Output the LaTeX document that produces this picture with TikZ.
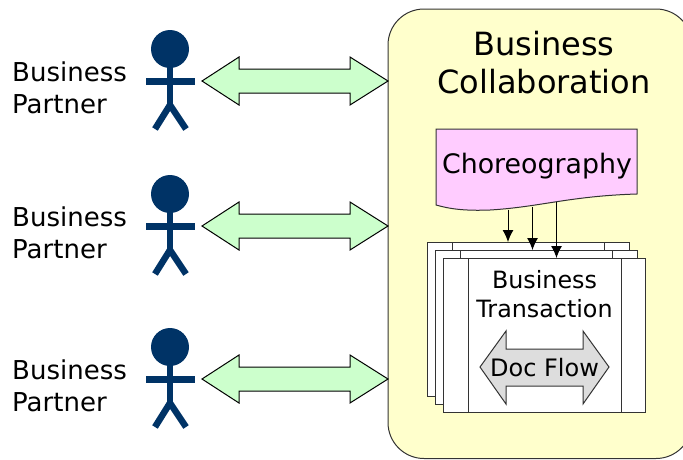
\documentclass[tikz,border=0pt]{standalone}
\usepackage{fontspec}
\setmainfont{DejaVu Sans}
\definecolor{bcyellow}{HTML}{FFFFCC}
\definecolor{chpink}{HTML}{FFCCFF}
\definecolor{arrgreen}{HTML}{CCFFCC}
\definecolor{navy}{HTML}{003366}
\definecolor{flowgray}{HTML}{DDDDDD}
\definecolor{edgegray}{HTML}{333333}
\usetikzlibrary{arrows.meta}
\tikzset{
 actorpart/.style={draw=navy,line width=6.5pt,line cap=butt},
 partnerlabel/.style={align=left,anchor=west,inner sep=0pt,font=\fontsize{26}{32}\selectfont},
 pageframe/.style={draw=edgegray,fill=white,line width=1pt,anchor=north west,minimum width=201.5pt,minimum height=154pt,inner sep=0pt,outer sep=0pt},
 pagebar/.style={draw=edgegray,line width=1pt},
 linkarrow/.style={draw=black,fill=arrgreen,line width=1pt,line join=miter},
 flowarrow/.style={draw=edgegray,fill=flowgray,line width=1pt,line join=miter},
 trigger/.style={draw=black,line width=1pt,-{Latex[length=12pt,width=11pt]}},
}
\newcommand{\bpactor}[2]{%
 \begin{scope}[yshift=-#1pt]
  \node[partnerlabel] (label#2) at (12,88) {Business\\Partner};
  \fill[navy] (170,49) circle (19);
  \coordinate (hip#2) at (170,105);
  \coordinate (neck#2) at (170,66);
  \coordinate (armL#2) at (146,81.5);
  \coordinate (armR#2) at (195,81.5);
  \coordinate (legL#2) at (155,129);
  \coordinate (legR#2) at (186,129);
  \draw[actorpart] (neck#2) -- (hip#2);
  \draw[actorpart] (armL#2) -- (armR#2);
  \draw[actorpart,line join=miter] (legL#2) -- (hip#2) -- (legR#2);
  \draw[linkarrow] (202,81) -- (239,57) -- (239,69) -- (350,69) -- (350,57) -- (388,81) -- (350,105) -- (350,93) -- (239,93) -- (239,105) -- cycle;
 \end{scope}}
\begin{document}
\begin{tikzpicture}[x=1pt,y=-1pt]
\useasboundingbox (0,0) rectangle (683,459);
% collaboration container (runs past the right edge of the picture)
\begin{scope}
\clip (0,0) rectangle (683,459);
\draw[draw=edgegray,fill=bcyellow,line width=1pt,rounded corners=36pt] (388,9) rectangle (692,458.5);
\end{scope}
\node[align=center,inner sep=0pt,font=\fontsize{32}{38}\selectfont] (title) at (544,62.5) {Business\\Collaboration};
% actors
\bpactor{0}{a}
\bpactor{145}{b}
\bpactor{298}{c}
% stacked transaction pages
\node[pageframe] (page1) at (427.5,242) {};
\draw[pagebar] (452,242) -- (452,396) (604,242) -- (604,396);
\node[pageframe] (page2) at (435.5,250) {};
\draw[pagebar] (460,250) -- (460,404) (612,250) -- (612,404);
\node[pageframe] (page3) at (443.5,258) {};
\draw[pagebar] (468.3,258) -- (468.3,412) (621,258) -- (621,412);
\node[align=center,inner sep=0pt,font=\fontsize{23.8}{29}\selectfont] (txn) at (544.5,294) {Business\\Transaction};
% doc flow
\draw[flowarrow] (480,367) -- (506,331) -- (506,349) -- (583,349) -- (583,331) -- (609,367) -- (583,404) -- (583,386) -- (506,386) -- (506,404) -- cycle;
\node[inner sep=0pt,font=\fontsize{24}{29}\selectfont] (flow) at (544.5,368) {Doc Flow};
% choreography document
\draw[draw=edgegray,fill=chpink,line width=1pt] (436,129) -- (637,129) -- (637,194)
  .. controls (570,196) and (540,207) .. (490,210)
  .. controls (465,211) and (450,209) .. (436,205) -- cycle;
\node[inner sep=0pt,font=\fontsize{26.8}{32}\selectfont] (chor) at (537,166) {Choreography};
\coordinate (t1) at (508,209.5);
\coordinate (t2) at (532.5,206.5);
\coordinate (t3) at (556.5,202);
\draw[trigger] (t1) -- (t1 |- page1.north);
\draw[trigger] (t2) -- (t2 |- page2.north);
\draw[trigger] (t3) -- (t3 |- page3.north);
\end{tikzpicture}
\end{document}
